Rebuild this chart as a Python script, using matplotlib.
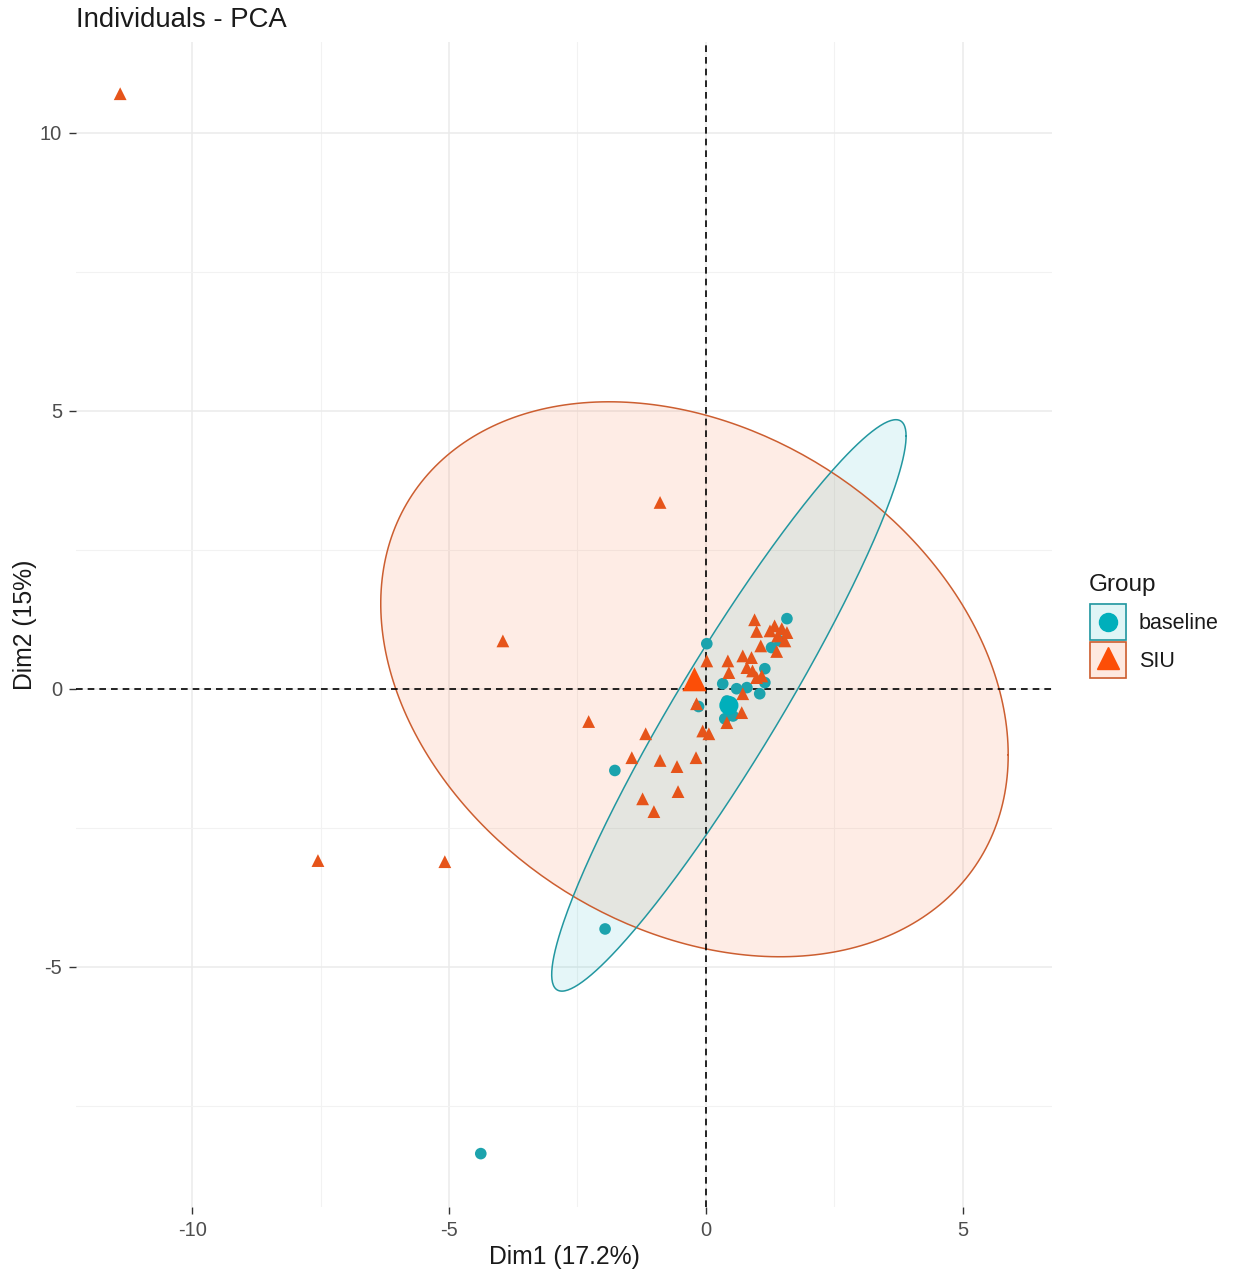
import numpy as np
import matplotlib
matplotlib.use("Agg")
import matplotlib.pyplot as plt
from matplotlib.patches import Rectangle
from matplotlib.lines import Line2D
from matplotlib.legend_handler import HandlerBase

plt.rcParams['font.family'] = ['Liberation Sans', 'DejaVu Sans']
plt.rcParams['axes.unicode_minus'] = False

# ---- data ----
siu_x = [-11.40, -0.89, -3.95, -2.28, -7.55, -5.08, -1.17, -1.44, -0.89, -0.56,
         -0.19, -1.23, -1.01, -0.54, -0.18, -0.06, 0.06, 0.02, 0.43, 0.45,
         0.72, 0.89, 0.80, 0.91, 1.09, 0.99, 0.95, 0.99, 1.07, 1.38,
         1.34, 1.48, 1.58, 1.40, 1.25, 0.72, 0.70, 0.41, 1.54]
siu_y = [10.70, 3.35, 0.86, -0.59, -3.09, -3.11, -0.81, -1.24, -1.29, -1.40,
         -1.24, -1.98, -2.21, -1.85, -0.27, -0.76, -0.81, 0.50, 0.50, 0.29,
         0.59, 0.56, 0.38, 0.32, 0.23, 0.20, 1.24, 1.03, 0.77, 0.67,
         1.13, 1.08, 1.01, 0.95, 1.04, -0.09, -0.43, -0.61, 0.86]

base_x = [-4.38, -1.96, -1.77, 0.02, 1.58, 1.28, 1.15, 1.15, 1.05, 0.33,
          0.80, 0.60, 0.41, 0.47, 0.53, 0.37, -0.14, 1.44]
base_y = [-8.36, -4.32, -1.47, 0.81, 1.26, 0.74, 0.36, 0.11, -0.09, 0.09,
          0.02, 0.00, -0.22, -0.36, -0.49, -0.54, -0.32, 0.86]

groups = ["baseline", "SIU"]
group_means = {"baseline": (0.45, -0.30), "SIU": (-0.22, 0.17)}
# confidence-ellipse covariance terms (var x, var y, cov xy)
group_cov = {"baseline": (11.9, 26.4, 16.7), "SIU": (37.3, 24.9, -8.3)}

x_ticks = [-10, -5, 0, 5]
y_ticks = [-5, 0, 5, 10]
x_label = "Dim1 (17.2%)"
y_label = "Dim2 (15%)"
title = "Individuals - PCA"
legend_title = "Group"

# ---- styles ----
col_main = {"baseline": "#00AFBB", "SIU": "#FC4E07"}
col_pt = {"baseline": "#1CA3AD", "SIU": "#E6541A"}
col_edge = {"baseline": "#2297A0", "SIU": "#CC5E30"}
key_marker = {"baseline": ('o', 13), "SIU": ('^', 16)}


class KeyHandler(HandlerBase):
    def create_artists(self, legend, orig_handle, xdescent, ydescent,
                       width, height, fontsize, trans):
        g = orig_handle.get_label()
        x0, y0 = -xdescent, -ydescent
        rect_bg = Rectangle((x0, y0), width, height, facecolor='white',
                            edgecolor='none', transform=trans)
        rect = Rectangle((x0, y0), width, height, facecolor=col_main[g],
                         alpha=0.12, edgecolor='none', transform=trans)
        rect_e = Rectangle((x0 + 0.6, y0 + 0.6), width - 1.2, height - 1.2,
                           facecolor='none', edgecolor=col_edge[g],
                           linewidth=1.2, transform=trans)
        mk, ms = key_marker[g]
        cy = y0 + height / 2 + (1.5 if mk == '^' else 0)
        m = Line2D([x0 + width / 2], [cy], marker=mk, markersize=ms,
                   color=col_main[g], linestyle='none', transform=trans)
        return [rect_bg, rect, rect_e, m]


W, H = 1235, 1274
fig = plt.figure(figsize=(W / 100, H / 100), dpi=100)
L, R, T, B = 76, 1052, 42, 1207
ax = fig.add_axes([L / W, 1 - B / H, (R - L) / W, (B - T) / H])

ax.set_xlim(-12.26, 6.74)
ax.set_ylim(-9.32, 11.63)

for s in ax.spines.values():
    s.set_visible(False)

ax.set_xticks(x_ticks)
ax.set_yticks(y_ticks)
ax.set_xticks([-7.5, -2.5, 2.5], minor=True)
ax.set_yticks([-7.5, -2.5, 2.5, 7.5], minor=True)
ax.grid(which='major', color='#EBEBEB', linewidth=1.1, zorder=0)
ax.grid(which='minor', color='#F2F2F2', linewidth=0.8, zorder=0)
ax.tick_params(which='major', length=5, width=1.0, color='#333333',
               labelsize=14.5, labelcolor='#4D4D4D', pad=5)
ax.tick_params(which='minor', length=0)
ax.set_axisbelow(True)

# ellipses
t = np.linspace(0, 2 * np.pi, 300)
for g in ["SIU", "baseline"]:
    a, b, c = group_cov[g]
    Lc = np.linalg.cholesky(np.array([[a, c], [c, b]]))
    pts = (Lc @ np.vstack([np.cos(t), np.sin(t)])).T + np.array(group_means[g])
    ax.fill(pts[:, 0], pts[:, 1], facecolor=col_main[g], alpha=0.1,
            edgecolor='none', zorder=1)
    ax.plot(pts[:, 0], pts[:, 1], color=col_edge[g], linewidth=1.1, zorder=2)

ax.axhline(0, color='black', linestyle=(0, (4, 3)), linewidth=1.2, zorder=3)
ax.axvline(0, color='black', linestyle=(0, (4, 3)), linewidth=1.2, zorder=3)

ax.scatter(base_x, base_y, marker='o', s=70, color=col_pt["baseline"],
           edgecolors='none', zorder=4)
ax.scatter(siu_x, siu_y, marker='^', s=85, color=col_pt["SIU"],
           edgecolors='none', zorder=5)
ax.scatter([group_means["baseline"][0]], [group_means["baseline"][1]],
           marker='o', s=190, color=col_main["baseline"], edgecolors='none', zorder=6)
ax.scatter([group_means["SIU"][0]], [group_means["SIU"][1]],
           marker='^', s=300, color=col_main["SIU"], edgecolors='none', zorder=6)

ax.set_xlabel(x_label, fontsize=17.8, color='#1A1A1A', labelpad=4)
ax.set_ylabel(y_label, fontsize=17.8, color='#1A1A1A', labelpad=2)
ax.set_title(title, loc='left', fontsize=19.8, color='#1A1A1A', pad=11)

# legend
handles = [Line2D([], [], label=g) for g in groups]
leg_fs = 15.5
fs_px = leg_fs * 100 / 72
key_px = 38
leg = fig.legend(handles, groups, handler_map={Line2D: KeyHandler()},
                 loc='upper left', bbox_to_anchor=(1089 / W, 1 - 574 / H),
                 frameon=False, fontsize=leg_fs, title=legend_title,
                 title_fontsize=17.5,
                 handlelength=key_px / fs_px,
                 handleheight=(key_px / fs_px - 0.245) / 0.65,
                 labelspacing=0.0, handletextpad=0.55, borderpad=0,
                 borderaxespad=0, alignment='left')
leg._legend_box.sep = 5
for txt in leg.get_texts():
    txt.set_color('#1A1A1A')
leg.get_title().set_color('#1A1A1A')

fig.savefig("out.png", dpi=100, facecolor='white')
